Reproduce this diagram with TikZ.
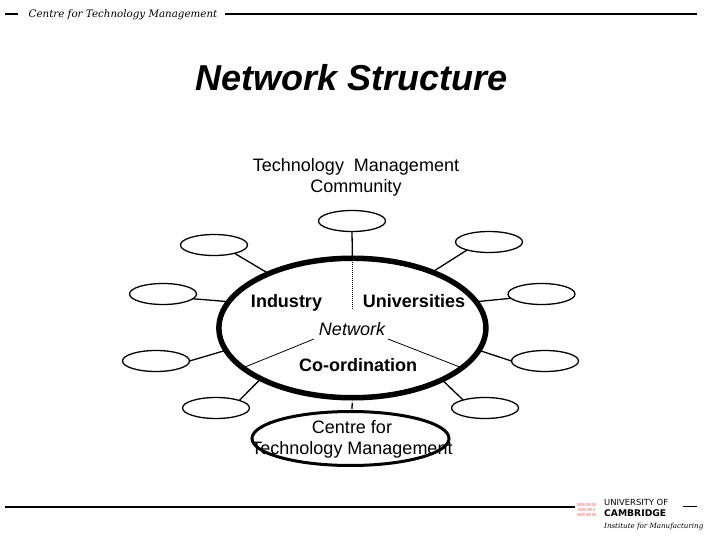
\documentclass[tikz,border=0pt]{standalone}
\usepackage{fontspec}
\setmainfont{Liberation Sans}
\newfontfamily\hdfont{DejaVu Serif}
\newfontfamily\unifont{DejaVu Sans}
\usetikzlibrary{shapes.geometric}
\definecolor{smudge}{HTML}{F7C4C4}
\tikzset{
  x=1pt,y=-1pt,
  sat/.style={ellipse,draw,line width=1.3pt,minimum width=67pt,minimum height=21pt,inner sep=0pt,outer sep=0pt},
  spoke/.style={line width=1.3pt},
  thinspoke/.style={line width=0.8pt},
  rule/.style={line width=1.5pt},
  lbl/.style={font=\fontsize{18}{21}\selectfont,inner sep=0pt,align=center},
  boldlbl/.style={font=\fontsize{18}{21}\selectfont\bfseries,inner sep=0pt,anchor=base},
  smudgeline/.style={draw=smudge,line width=3pt,dash pattern=on 8pt off 1pt on 5pt off 1pt on 6pt off 1pt},
}
\begin{document}
\begin{tikzpicture}
\useasboundingbox (0,0) rectangle (720,540);
% header and footer rules
\coordinate (ha) at (5,14); \coordinate (hb) at (18,14);
\coordinate (hc) at (225,14); \coordinate (hd) at (697,14);
\draw[rule] (ha) -- (hb);
\draw[rule] (hc) -- (hd);
\node[inner sep=0pt,font=\hdfont\itshape\fontsize{10.3}{11}\selectfont] (hdr) at (123,14.5) {Centre for Technology Management};
\coordinate (fa) at (5,507); \coordinate (fb) at (575,507);
\coordinate (fc) at (683,506.5); \coordinate (fd) at (697,506.5);
\draw[rule] (fa) -- (fb);
\draw[rule] (fc) -- (fd);
% title
\node[inner sep=0pt,font=\fontsize{36}{40}\selectfont\bfseries\itshape] (title) at (352,78) {Network Structure};
\node[lbl] (tmc) at (356,177) {Technology\ \ Management\\Community};
% main ellipses
\node[ellipse,draw,line width=5.5pt,minimum width=267pt,minimum height=139.5pt,inner sep=0pt,outer sep=0pt] (main) at (352.4,328) {};
\node[ellipse,draw,line width=3pt,minimum width=197pt,minimum height=54pt,inner sep=0pt,outer sep=0pt] (ctm) at (350.5,438.5) {};
% satellites
\node[sat] (st) at (352,221) {};
\node[sat] (l1) at (214,245) {};
\node[sat] (l2) at (163,294) {};
\node[sat] (l3) at (156,361) {};
\node[sat] (l4) at (216,408) {};
\node[sat] (r1) at (489,242) {};
\node[sat] (r2) at (541.5,294) {};
\node[sat] (r3) at (545,361) {};
\node[sat] (r4) at (485,408) {};
% spokes
\draw[spoke] (l1.-22) -- (main.147.7);
\draw[spoke] (l2.-9) -- (main.168);
\draw[spoke] (l3.0) -- (main.190.5);
\draw[spoke] (l4.18) -- (main.209);
\draw[spoke] (r1.200) -- (main.35.4);
\draw[spoke] (r2.188) -- (main.12.4);
\draw[spoke] (r3.180) -- (main.-10.7);
\draw[spoke] (r4.160) -- (main.-30.4);
\draw[spoke] (st.south) -- (main.north);
\coordinate (stub) at (352,409);
\draw[spoke,shorten <=5pt] (main.south) -- (stub);
% inner lines
\coordinate (nl) at (314,339);
\coordinate (nr) at (388,339);
\coordinate (dot) at (352.4,310);
\draw[line width=1pt,dash pattern=on 1pt off 1pt] (main.north) -- (dot);
\draw[thinspoke] (nl) -- (main.200);
\draw[thinspoke] (nr) -- (main.-20);
% labels
\node[boldlbl] (ind) at (286.5,307) {Industry};
\node[boldlbl] (uni) at (414,307) {Universities};
\node[inner sep=0pt,anchor=base,font=\fontsize{18}{21}\selectfont\itshape] (net) at (352,335) {Network};
\node[boldlbl] (coo) at (358,371) {Co-ordination};
\node[lbl] (ctmt) at (352,439) {Centre for\\Technology Management};
% illegible pale mark beside the crest
\coordinate (s1a) at (577,504); \coordinate (s1b) at (596,504);
\coordinate (s2a) at (578,509); \coordinate (s2b) at (595,509);
\coordinate (s3a) at (577,514); \coordinate (s3b) at (596,514);
\draw[smudgeline] (s1a) -- (s1b);
\draw[smudgeline] (s2a) -- (s2b);
\draw[smudgeline] (s3a) -- (s3b);
% footer text
\node[inner sep=0pt,anchor=west,font=\unifont\fontsize{8.4}{9}\selectfont] (u1) at (604,502) {UNIVERSITY OF};
\node[inner sep=0pt,anchor=west,font=\unifont\bfseries\fontsize{9.2}{10}\selectfont] (u2) at (604,513) {CAMBRIDGE};
\node[inner sep=0pt,anchor=west,font=\hdfont\itshape\fontsize{7.1}{9}\selectfont] (u3) at (604,527) {Institute for Manufacturing};
\end{tikzpicture}
\end{document}
